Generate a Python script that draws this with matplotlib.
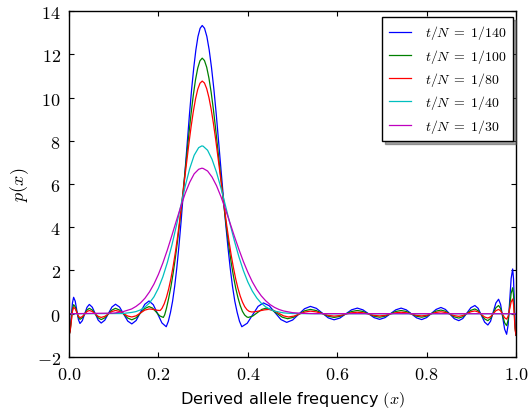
import matplotlib
matplotlib.use("Agg")
import matplotlib.pyplot as plt
from matplotlib.ticker import FuncFormatter, MultipleLocator

# ---- data (x, p(x)) ----
LABELS = [r"$t/N\;=\;1/140$", r"$t/N\;=\;1/100$", r"$t/N\;=\;1/80$",
          r"$t/N\;=\;1/40$", r"$t/N\;=\;1/30$"]
COLORS = ["b", "g", "r", "c", "m"]

# shared ripple grid, left side (blue / green / red)
X_LEFT = [0.0, 0.0026, 0.0052, 0.0077, 0.0103, 0.0139, 0.0174, 0.0210, 0.0245,
          0.0298, 0.035, 0.0403, 0.0455, 0.0521, 0.0588, 0.0654, 0.072,
          0.080, 0.088, 0.096, 0.104, 0.1131, 0.1223, 0.1314, 0.1405,
          0.1501, 0.1598, 0.1694, 0.179]
# shared ripple grid, right side from x=0.540
X_RIGHT = [0.540, 0.5533, 0.5665, 0.5798, 0.593, 0.606, 0.619, 0.632, 0.645,
           0.6575, 0.670, 0.6825, 0.695, 0.707, 0.719, 0.731, 0.743,
           0.7545, 0.766, 0.7775, 0.789, 0.7998, 0.8105, 0.8213, 0.832,
           0.842, 0.852, 0.862, 0.872, 0.881, 0.890, 0.899, 0.908,
           0.9153, 0.9225, 0.9298, 0.937, 0.943, 0.949, 0.955, 0.961,
           0.9655, 0.970, 0.9745, 0.979, 0.9824, 0.9858, 0.9891, 0.9925,
           0.9944, 0.9963, 0.9981, 1.0]

BLUE_X = X_LEFT + [
    0.1886, 0.1983, 0.2079, 0.2175, 0.2222, 0.2270, 0.2317, 0.2364, 0.2412,
    0.2459, 0.2507, 0.2554, 0.2601, 0.2649, 0.2696, 0.2743, 0.2791, 0.2838,
    0.2885, 0.2933, 0.298, 0.3032, 0.3084, 0.3136, 0.3188, 0.3241, 0.3293,
    0.3345, 0.3397, 0.3449, 0.3501, 0.3553, 0.3605, 0.3657, 0.3709, 0.3762,
    0.3814, 0.3866, 0.3987, 0.4108, 0.4229, 0.435, 0.448, 0.461, 0.474,
    0.487, 0.5003, 0.5135, 0.5268] + X_RIGHT
BLUE_Y = [
    -1.0, -0.74, -0.12, 0.50, 0.76, 0.58, 0.155, -0.27, -0.45,
    -0.32, -0.01, 0.30, 0.43, 0.30, 0.0, -0.30, -0.43,
    -0.30, 0.005, 0.31, 0.44, 0.31, -0.015, -0.34, -0.47,
    -0.315, 0.06, 0.435, 0.59,
    0.416, -0.005, -0.426, -0.60, -0.35, 0.06, 0.58, 1.27, 2.13,
    3.13, 4.25, 5.47, 6.74, 8.02, 9.25, 10.38, 11.38, 12.20,
    12.82, 13.20, 13.33, 13.20, 12.82, 12.20, 11.38, 10.38, 9.25,
    8.02, 6.74, 5.47, 4.25, 3.13, 2.13, 1.27, 0.58, 0.06,
    -0.35, -0.60, -0.44, -0.05, 0.34, 0.50, 0.368, 0.05, -0.268,
    -0.40, -0.29, -0.03, 0.23,
    0.34, 0.25, 0.03, -0.19, -0.28, -0.20, -0.01, 0.18, 0.26,
    0.18, 0.0, -0.18, -0.26, -0.18, 0.0, 0.18, 0.26,
    0.18, -0.005, -0.19, -0.27, -0.18, 0.01, 0.20, 0.29,
    0.20, -0.015, -0.23, -0.32, -0.22, 0.03, 0.28, 0.38,
    0.25, -0.07, -0.39, -0.52, -0.35, 0.075, 0.50, 0.67,
    0.43, -0.14, -0.71, -0.95, -0.51, 0.56, 1.63, 2.07,
    1.62, 0.535, -0.55, -1.0]

GREEN_X = X_LEFT + [
    0.187, 0.195, 0.203,
    0.211, 0.214, 0.218, 0.223, 0.228, 0.233, 0.238, 0.243, 0.248, 0.253,
    0.258, 0.263, 0.268, 0.273, 0.278, 0.283, 0.288, 0.293, 0.298,
    0.303, 0.308, 0.313, 0.318, 0.323, 0.328, 0.333, 0.338, 0.343, 0.348,
    0.353, 0.358, 0.363, 0.368, 0.373, 0.378, 0.383, 0.388, 0.393, 0.398,
    0.401,
    0.411, 0.421, 0.431, 0.441, 0.453, 0.465, 0.477, 0.489, 0.5018, 0.5145,
    0.5273] + X_RIGHT
GREEN_Y = [
    -1.0, -0.79, -0.29, 0.21, 0.42, 0.32, 0.08, -0.16, -0.26,
    -0.185, -0.005, 0.175, 0.25, 0.17, -0.01, -0.19, -0.27,
    -0.19, -0.01, 0.17, 0.25, 0.17, -0.015, -0.20, -0.28,
    -0.19, 0.025, 0.24, 0.33,
    0.26, 0.08, -0.10,
    -0.17, -0.05, 0.25, 0.72, 1.25, 1.88, 2.60, 3.40, 4.28, 5.22,
    6.22, 7.26, 8.28, 9.24, 10.10, 10.82, 11.36, 11.70, 11.82,
    11.71, 11.40, 10.90, 10.24, 9.45, 8.55, 7.60, 6.62, 5.65, 4.72,
    3.86, 3.06, 2.34, 1.72, 1.18, 0.74, 0.38, 0.11, -0.06, -0.15,
    -0.17,
    -0.107, 0.045, 0.197, 0.26, 0.188, 0.015, -0.158, -0.23, -0.167, -0.015,
    0.137,
    0.20, 0.146, 0.015, -0.116, -0.17, -0.123, -0.01, 0.103, 0.15,
    0.105, -0.005, -0.115, -0.16, -0.115, -0.005, 0.105, 0.15,
    0.105, -0.005, -0.115, -0.16, -0.112, 0.005, 0.122, 0.17,
    0.116, -0.015, -0.146, -0.20, -0.138, 0.01, 0.158, 0.22,
    0.14, -0.05, -0.24, -0.32, -0.217, 0.03, 0.277, 0.38,
    0.244, -0.085, -0.414, -0.55, -0.294, 0.325, 0.944, 1.20,
    0.878, 0.1, -0.678, -1.0]

RED_X = X_LEFT + [
    0.1853, 0.1915, 0.1978,
    0.204, 0.208, 0.213, 0.218, 0.223, 0.228, 0.233, 0.238, 0.243, 0.248,
    0.253, 0.258, 0.263, 0.268, 0.273, 0.278, 0.283, 0.288, 0.293, 0.298,
    0.303, 0.308, 0.313, 0.318, 0.323, 0.328, 0.333, 0.338, 0.343, 0.348,
    0.353, 0.358, 0.363, 0.368, 0.373, 0.378, 0.383, 0.388, 0.393, 0.398,
    0.403, 0.409,
    0.4185, 0.428, 0.4375, 0.447, 0.458, 0.469, 0.480, 0.491, 0.5033, 0.5155,
    0.5278] + X_RIGHT
RED_Y = [
    -1.0, -0.81, -0.35, 0.11, 0.30, 0.23, 0.06, -0.11, -0.18,
    -0.132, -0.015, 0.102, 0.15, 0.103, -0.01, -0.123, -0.17,
    -0.123, -0.01, 0.103, 0.15, 0.106, 0.0, -0.106, -0.15,
    -0.096, 0.035, 0.166, 0.22,
    0.21, 0.185, 0.16,
    0.15, 0.25, 0.46, 0.76, 1.15, 1.63, 2.20, 2.85, 3.58, 4.38,
    5.23, 6.11, 6.99, 7.84, 8.63, 9.34, 9.93, 10.38, 10.66, 10.76,
    10.67, 10.41, 10.00, 9.46, 8.81, 8.08, 7.29, 6.47, 5.64, 4.83,
    4.06, 3.34, 2.69, 2.11, 1.60, 1.17, 0.82, 0.54, 0.33, 0.19,
    0.11, 0.08,
    0.10, 0.14, 0.18, 0.20, 0.149, 0.025, -0.099, -0.15, -0.11, -0.015,
    0.08,
    0.12, 0.086, 0.005, -0.076, -0.11, -0.084, -0.02, 0.044, 0.07,
    0.045, -0.015, -0.075, -0.10, -0.075, -0.015, 0.045, 0.07,
    0.045, -0.015, -0.075, -0.10, -0.072, -0.005, 0.062, 0.09,
    0.059, -0.015, -0.089, -0.12, -0.083, 0.005, 0.093, 0.13,
    0.082, -0.035, -0.152, -0.20, -0.141, 0.0, 0.141, 0.20,
    0.134, -0.025, -0.184, -0.25, -0.114, 0.215, 0.544, 0.68,
    0.434, -0.16, -0.754, -1.0]

CYAN_X = [0.0, 0.12, 0.14, 0.15, 0.16, 0.17, 0.18, 0.19, 0.20, 0.21, 0.22,
          0.23, 0.24, 0.25, 0.26, 0.27, 0.28, 0.29, 0.297, 0.30, 0.31, 0.32,
          0.33, 0.34, 0.35, 0.36, 0.37, 0.38, 0.39, 0.40, 0.41, 0.42, 0.43,
          0.44, 0.45, 0.46, 0.48, 0.50, 0.55, 1.0]
CYAN_Y = [0.0, 0.01, 0.06, 0.10, 0.18, 0.31, 0.50, 0.78, 1.18, 1.71, 2.37,
          3.16, 4.05, 4.99, 5.90, 6.71, 7.33, 7.68, 7.76, 7.75, 7.56, 7.14,
          6.54, 5.81, 5.00, 4.17, 3.37, 2.64, 2.00, 1.47, 1.05, 0.73, 0.49,
          0.32, 0.20, 0.12, 0.04, 0.01, 0.0, 0.0]

MAGENTA_X = [0.0, 0.10, 0.12, 0.14, 0.15, 0.16, 0.17, 0.18, 0.19, 0.20, 0.21,
             0.22, 0.23, 0.24, 0.25, 0.26, 0.27, 0.28, 0.29, 0.297, 0.30, 0.31,
             0.32, 0.33, 0.34, 0.35, 0.36, 0.37, 0.38, 0.39, 0.40, 0.41, 0.42,
             0.43, 0.44, 0.45, 0.46, 0.47, 0.48, 0.50, 0.52, 0.55, 1.0]
MAGENTA_Y = [0.0, 0.03, 0.09, 0.22, 0.34, 0.50, 0.72, 1.01, 1.37, 1.82, 2.35,
             2.95, 3.61, 4.29, 4.95, 5.57, 6.08, 6.47, 6.68, 6.73, 6.72, 6.60,
             6.32, 5.92, 5.41, 4.83, 4.21, 3.58, 2.98, 2.42, 1.92, 1.48, 1.12,
             0.83, 0.60, 0.42, 0.29, 0.195, 0.128, 0.05, 0.02, 0.005, 0.0]

SERIES = [(BLUE_X, BLUE_Y), (GREEN_X, GREEN_Y), (RED_X, RED_Y),
          (CYAN_X, CYAN_Y), (MAGENTA_X, MAGENTA_Y)]

plt.rcParams.update({
    "mathtext.fontset": "cm",
    "xtick.direction": "in",
    "ytick.direction": "in",
    "xtick.top": True,
    "ytick.right": True,
    "xtick.major.size": 3.5,
    "ytick.major.size": 3.5,
    "axes.linewidth": 1.0,
})

fig = plt.figure(figsize=(5.28, 4.14), dpi=100)
ax = fig.add_axes([0.1307, 0.1353, 0.8466, 0.8357])

for (xs, ys), col, lab in zip(SERIES, COLORS, LABELS):
    ax.plot(xs, ys, color=col, lw=0.9, label=lab)

ax.set_xlim(0.0, 1.0)
ax.set_ylim(-2, 14)
ax.xaxis.set_major_locator(MultipleLocator(0.2))
ax.yaxis.set_major_locator(MultipleLocator(2))
ax.xaxis.set_major_formatter(FuncFormatter(lambda v, p: rf"${v:.1f}$"))
ax.yaxis.set_major_formatter(FuncFormatter(lambda v, p: rf"${v:g}$"))
ax.tick_params(labelsize=13, pad=6)

ax.set_xlabel(r"Derived allele frequency $(x)$", fontsize=11.6)
ax.set_ylabel(r"$p(x)$", fontsize=13)

ax.legend(loc="upper right", bbox_to_anchor=(0.994, 0.982), borderaxespad=0,
          fontsize=10, shadow=True, fancybox=False, framealpha=1,
          edgecolor="black", handlelength=1.6, handletextpad=1.05,
          labelspacing=0.38, borderpad=0.45)

fig.savefig("out.png", dpi=100)
